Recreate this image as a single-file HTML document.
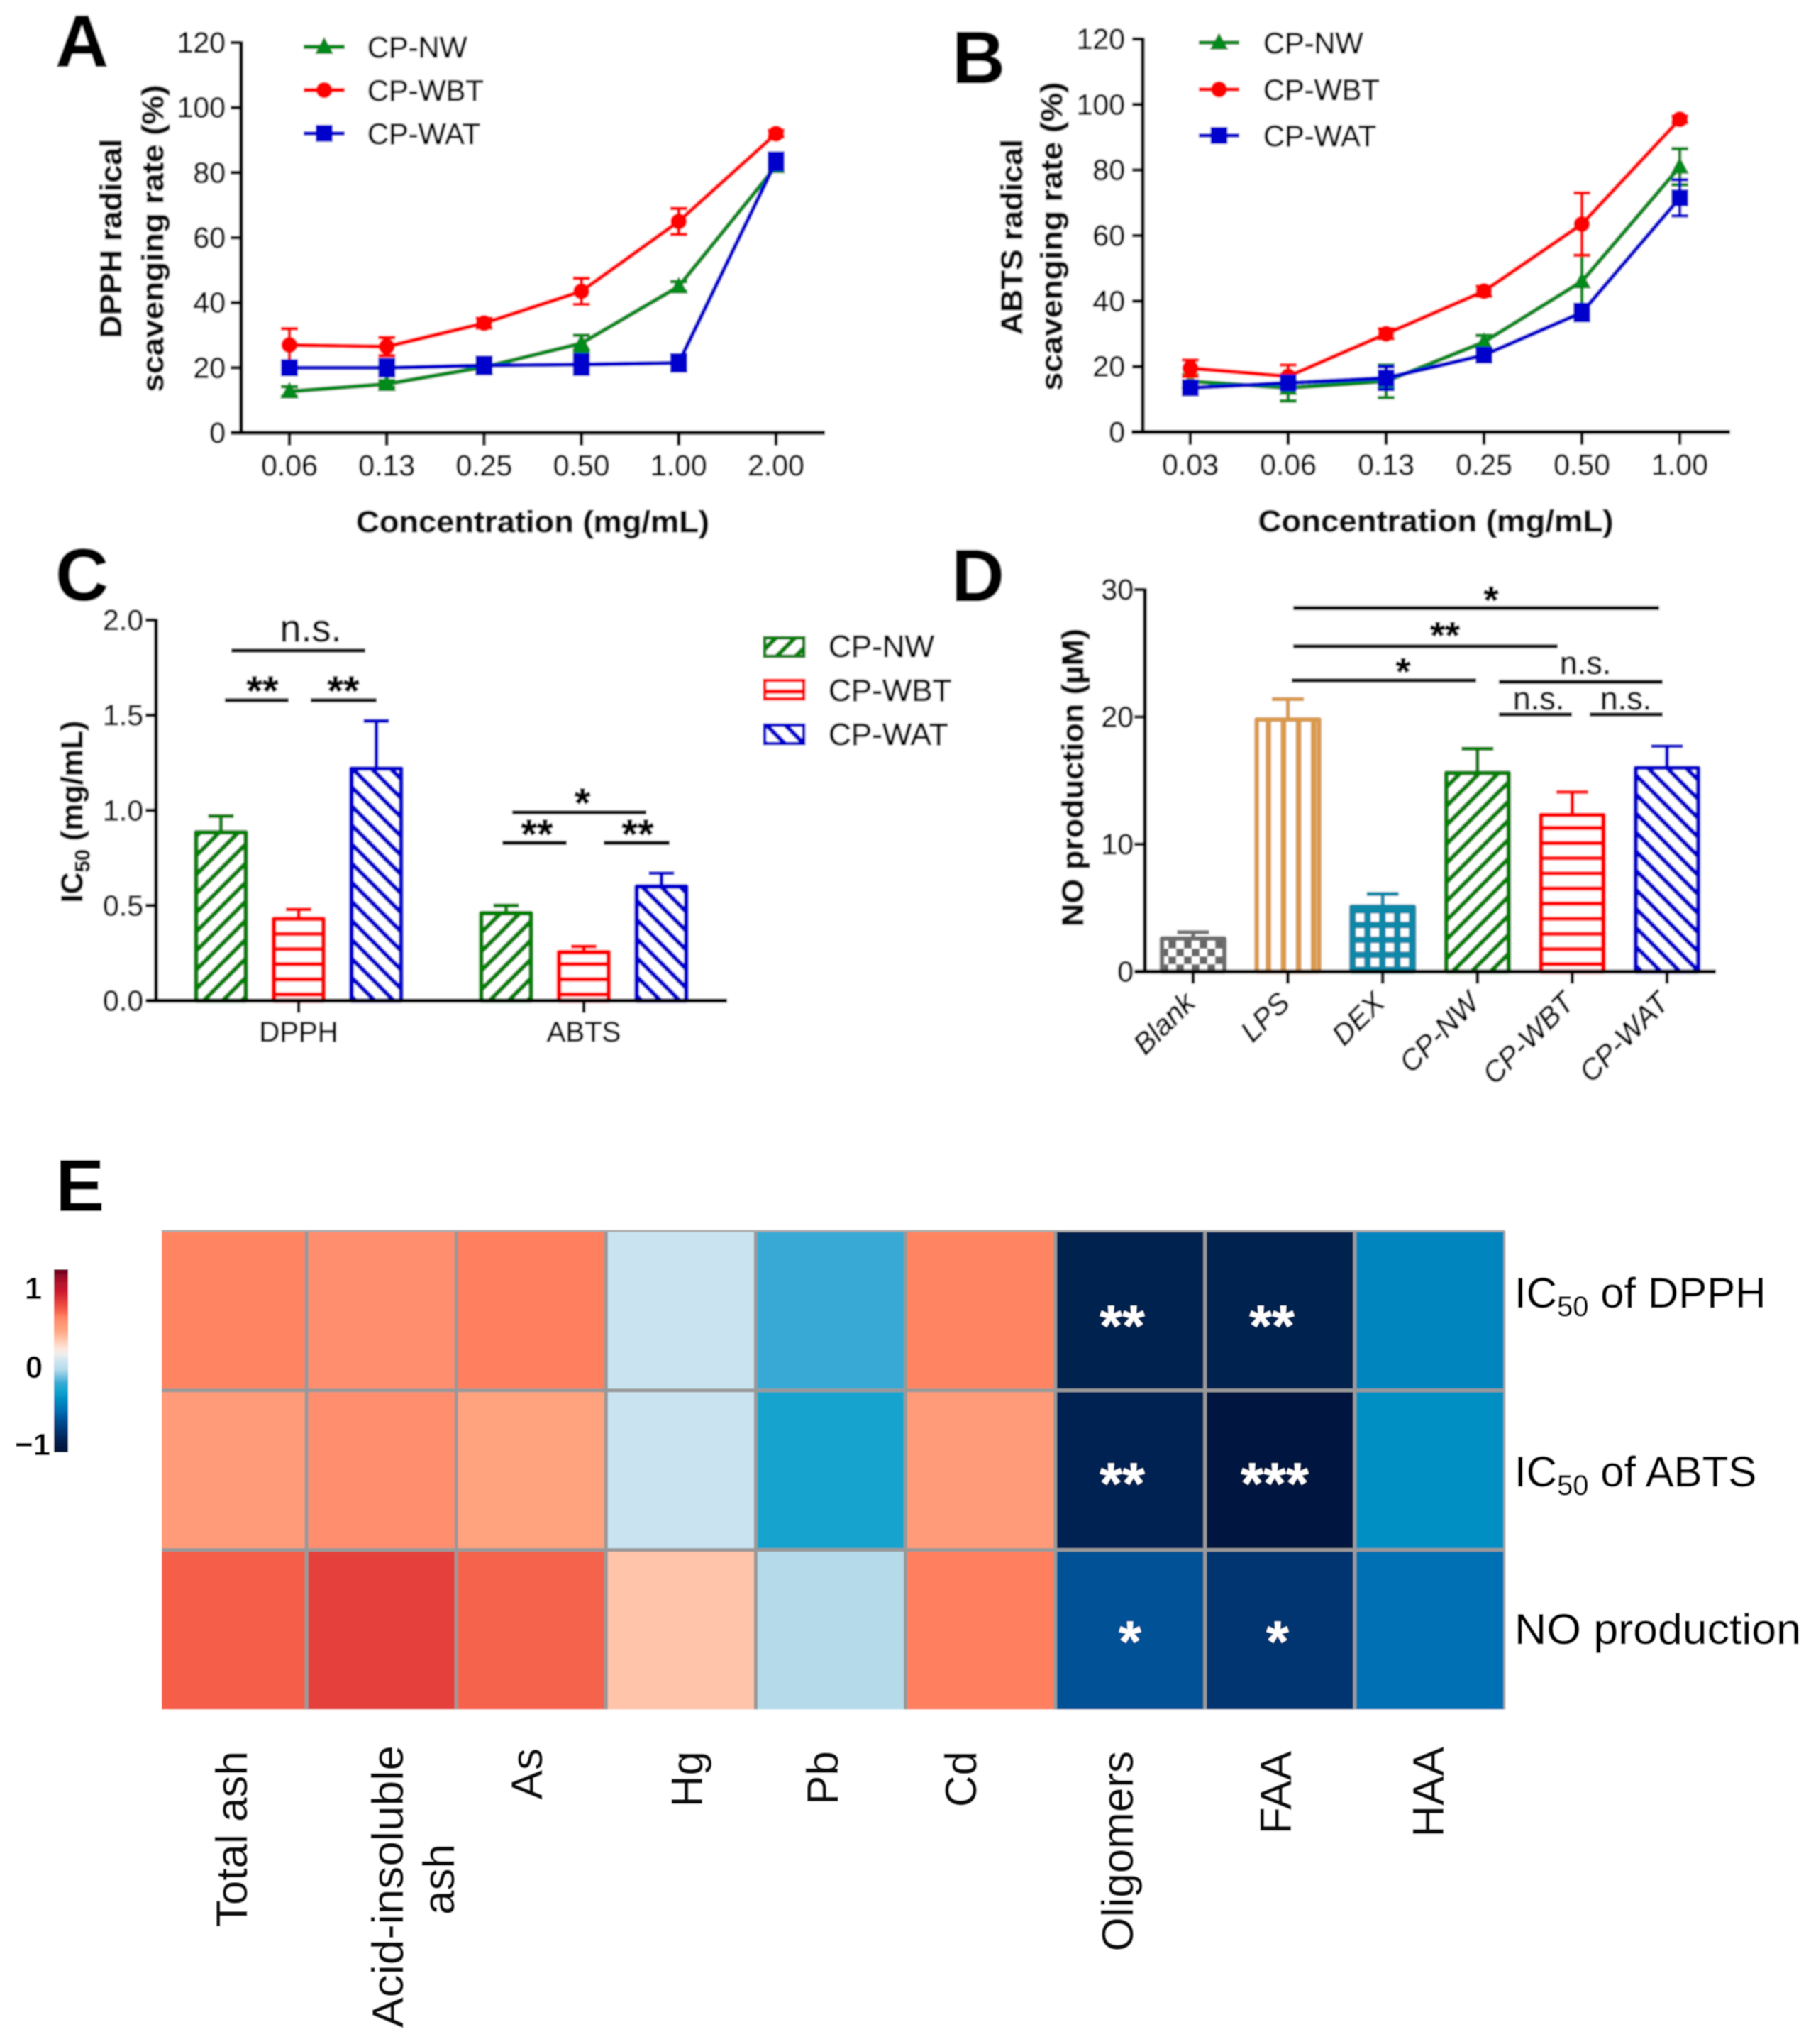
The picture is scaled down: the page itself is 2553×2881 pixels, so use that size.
<!DOCTYPE html>
<html lang="en">
<head>
<meta charset="utf-8">
<title>Antioxidant and anti-inflammatory activity figure</title>
<style>
html,body{margin:0;padding:0;background:#fff;}
svg{display:block;font-family:"Liberation Sans",Arial,sans-serif;}
text{fill:#000;}
#softTop text{stroke:#000;stroke-width:.9;}
.tick{font-size:41px;}
.leg{font-size:41.5px;}
.letter{font-size:104px;font-weight:bold;fill:#000;}
.ytitle,.xtitle{font-size:43px;font-weight:bold;fill:#111;}
.sig{stroke:#111;stroke-width:6;fill:none;}
.star{font-size:54px;font-weight:bold;text-anchor:middle;}
.ns{font-size:45px;text-anchor:middle;}
.cl{font-size:62px;text-anchor:end;fill:#111;stroke:#111;stroke-width:.5;}
.rl{font-size:60px;fill:#000;stroke:#000;stroke-width:.5;}
.hs{font-size:82px;font-weight:bold;text-anchor:middle;fill:#fff;}
</style>
</head>
<body>
<svg id="fig" xmlns="http://www.w3.org/2000/svg" width="2553" height="2881" viewBox="0 0 2553 2881">
<defs>
  <filter id="soft" x="0" y="0" width="1" height="1" filterUnits="objectBoundingBox"><feGaussianBlur stdDeviation="1"/></filter>
  <filter id="softer" x="0" y="0" width="1" height="1" filterUnits="objectBoundingBox"><feGaussianBlur stdDeviation="0.8"/></filter>
  <pattern id="hGreen" patternUnits="userSpaceOnUse" width="19" height="19" patternTransform="rotate(45)"><rect width="6.5" height="19" fill="#008000"/></pattern>
  <pattern id="hBlue" patternUnits="userSpaceOnUse" width="19" height="19" patternTransform="rotate(-45)"><rect width="6.5" height="19" fill="#0000CC"/></pattern>
  <pattern id="hRed" patternUnits="userSpaceOnUse" width="21.35" height="21.35" patternTransform="translate(0,11)"><rect width="21.35" height="6" fill="#FF0000"/></pattern>
  <pattern id="hOrange" patternUnits="userSpaceOnUse" width="21.3" height="20" patternTransform="translate(1784,0)"><rect width="8" height="20" fill="#D99A4E"/></pattern>
  <pattern id="hTeal" patternUnits="userSpaceOnUse" width="21" height="21" patternTransform="translate(1907,1283)"><rect width="21" height="21" fill="#0A88A8"/><rect x="4.5" y="4.5" width="11.5" height="11.5" fill="#fff"/></pattern>
  <pattern id="hGrey" patternUnits="userSpaceOnUse" width="22" height="22" patternTransform="translate(1636,1326)"><rect width="22" height="22" fill="#fff"/><rect x="11" width="11" height="11" fill="#666"/><rect y="11" width="11" height="11" fill="#666"/></pattern>
  <linearGradient id="cbarGrad" x1="0" y1="0" x2="0" y2="1"></linearGradient>
</defs>

<g id="softTop" filter="url(#soft)">
  <rect x="0" y="0" width="2553" height="1600" fill="#fff" stroke="none"/>
  <text class="letter" x="78" y="94">A</text>
  <text class="letter" x="1342" y="117">B</text>
  <text class="letter" x="78" y="846">C</text>
  <text class="letter" x="1341" y="847">D</text>

  <g id="panelA">
    <text class="ytitle" transform="translate(171,336) rotate(-90)" text-anchor="middle" textLength="281" lengthAdjust="spacingAndGlyphs">DPPH radical</text>
    <text class="ytitle" transform="translate(230,336) rotate(-90)" text-anchor="middle" textLength="433" lengthAdjust="spacingAndGlyphs">scavenging rate (%)</text>
    <text class="xtitle" x="751" y="750" text-anchor="middle" textLength="498" lengthAdjust="spacingAndGlyphs">Concentration (mg/mL)</text>
  </g>
  <g id="panelB">
    <text class="ytitle" transform="translate(1441,334) rotate(-90)" text-anchor="middle" textLength="276" lengthAdjust="spacingAndGlyphs">ABTS radical</text>
    <text class="ytitle" transform="translate(1497,333) rotate(-90)" text-anchor="middle" textLength="435" lengthAdjust="spacingAndGlyphs">scavenging rate (%)</text>
    <text class="xtitle" x="2024" y="749" text-anchor="middle" textLength="501" lengthAdjust="spacingAndGlyphs">Concentration (mg/mL)</text>
  </g>
  <g id="panelC">
    <text class="ytitle" transform="translate(116,1144) rotate(-90)" text-anchor="middle">IC<tspan font-size="29" dy="10">50</tspan><tspan dy="-10"> (mg/mL)</tspan></text>
    <g>
      <path class="sig" d="M326 917H515"/>
      <text class="ns" style="font-size:54px" x="438" y="904">n.s.</text>
      <path class="sig" d="M317 987H407"/>
      <path class="sig" d="M438 987H531"/>
      <text class="star" style="font-size:58px" x="370" y="994">**</text>
      <text class="star" style="font-size:58px" x="484" y="994">**</text>
      <path class="sig" d="M722 1145H911"/>
      <text class="star" style="font-size:58px" x="821" y="1152">*</text>
      <path class="sig" d="M708 1188H799"/>
      <path class="sig" d="M851 1188H944"/>
      <text class="star" style="font-size:58px" x="757" y="1196">**</text>
      <text class="star" style="font-size:58px" x="899" y="1196">**</text>
    </g>
    <g>
      <rect x="1078" y="899" width="55" height="26" fill="url(#hGreen)" stroke="#008000" stroke-width="5"/>
      <text class="leg" style="font-size:44px" x="1168" y="926">CP-NW</text>
      <rect x="1078" y="959" width="55" height="26" fill="url(#hRed)" stroke="#FF0000" stroke-width="5"/>
      <text class="leg" style="font-size:44px" x="1168" y="988">CP-WBT</text>
      <rect x="1078" y="1022" width="55" height="26" fill="url(#hBlue)" stroke="#0000CC" stroke-width="5"/>
      <text class="leg" style="font-size:44px" x="1168" y="1050">CP-WAT</text>
    </g>
  </g>
  <g id="panelD">
    <text class="ytitle" transform="translate(1527,1096) rotate(-90)" text-anchor="middle" textLength="420" lengthAdjust="spacingAndGlyphs">NO production (µM)</text>
    <g>
      <path class="sig" d="M1823 857H2339"/>
      <text class="star" x="2102" y="864">*</text>
      <path class="sig" d="M1823 911H2196"/>
      <text class="star" x="2037" y="914">**</text>
      <path class="sig" d="M1821 959H2081"/>
      <text class="star" x="1978" y="965">*</text>
      <path class="sig" d="M2113 961H2344"/>
      <text class="ns" x="2235" y="950">n.s.</text>
      <path class="sig" d="M2113 1007H2216"/>
      <text class="ns" x="2169" y="1000">n.s.</text>
      <path class="sig" d="M2241 1007H2344"/>
      <text class="ns" x="2292" y="1000">n.s.</text>
    </g>
  </g>
</g>

<g id="panelE" filter="url(#softer)">
  <rect x="0" y="1600" width="2553" height="1281" fill="#fff"/>
  <text class="letter" x="78" y="1707">E</text>
  <g id="heatCells"></g>
  <g>
    <text class="hs" x="1582" y="1897">**</text>
    <text class="hs" x="1793" y="1897">**</text>
    <text class="hs" x="1582" y="2119">**</text>
    <text class="hs" x="1797" y="2119">***</text>
    <text class="hs" x="1593" y="2342">*</text>
    <text class="hs" x="1801" y="2342">*</text>
  </g>
  <g>
    <text class="rl" x="2135" y="1843">IC<tspan font-size="40" dy="12">50</tspan><tspan dy="-12"> of DPPH</tspan></text>
    <text class="rl" x="2135" y="2095">IC<tspan font-size="40" dy="12">50</tspan><tspan dy="-12"> of ABTS</tspan></text>
    <text class="rl" x="2135" y="2317" textLength="404" lengthAdjust="spacingAndGlyphs">NO production</text>
  </g>
  <g>
    <text class="cl" transform="translate(348,2468) rotate(-90)">Total ash</text>
    <text class="cl" style="text-anchor:middle" transform="translate(568,2659) rotate(-90)" textLength="398" lengthAdjust="spacingAndGlyphs">Acid-insoluble</text>
    <text class="cl" style="text-anchor:middle" transform="translate(640,2649) rotate(-90)">ash</text>
    <text class="cl" transform="translate(764,2464) rotate(-90)">As</text>
    <text class="cl" transform="translate(990,2468) rotate(-90)">Hg</text>
    <text class="cl" transform="translate(1181,2468) rotate(-90)">Pb</text>
    <text class="cl" transform="translate(1376,2468) rotate(-90)">Cd</text>
    <text class="cl" transform="translate(1597,2468) rotate(-90)">Oligomers</text>
    <text class="cl" transform="translate(1820,2468) rotate(-90)">FAA</text>
    <text class="cl" transform="translate(2035,2462) rotate(-90)">HAA</text>
  </g>
  <g>
    <rect x="76" y="1789" width="20" height="258" fill="url(#cbarGrad)"/>
    <text x="47" y="1831" font-size="44" font-weight="bold" text-anchor="middle">1</text>
    <text x="48" y="1942" font-size="44" font-weight="bold" text-anchor="middle">0</text>
    <text x="46" y="2051" font-size="44" font-weight="bold" text-anchor="middle">−1</text>
  </g>
</g>
</svg>

<script>
// ---------- Panel A data ----------
const concA = ['0.06','0.13','0.25','0.50','1.00','2.00'];
const nwA  = [12.7,15,20.2,27.5,45,82];
const wbtA = [27,26.5,33.7,43.5,65,92];
const watA = [20,20,20.7,21,21.5,83.5];
const nwErrA  = [1.5,1,1,2.5,1.5,1];
const wbtErrA = [5,2.8,1.5,4,4,1];
const watErrA = [1.5,2.5,2.5,3,2.5,2.5];
// ---------- Panel B data ----------
const concB = ['0.03','0.06','0.13','0.25','0.50','1.00'];
const nwB  = [15.5,13.5,15.5,27.5,46,81];
const wbtB = [19.5,17,30,43,63.5,95.5];
const watB = [13.5,15,16.5,23.5,36.5,71.5];
const nwErrB  = [2,4,5,2,8,5.5];
const wbtErrB = [2.5,3.5,1.5,1.5,9.5,1];
const watErrB = [1.5,1.5,3.5,1.5,2.5,5.5];
const lineTicks = [0,20,40,60,80,100,120];
// ---------- Panel C data ----------
const groupsC = ['DPPH','ABTS'];
const icNW  = [0.885,0.46];
const icWBT = [0.43,0.255];
const icWAT = [1.22,0.6];
const icNWTop  = [0.97,0.5];
const icWBTTop = [0.48,0.285];
const icWATTop = [1.47,0.67];
const ticksC = ['0.0','0.5','1.0','1.5','2.0'];
// ---------- Panel D data ----------
const groupsD = ['Blank','LPS','DEX','CP-NW','CP-WBT','CP-WAT'];
const noValues = [2.6,19.8,5.1,15.6,12.3,16];
const noTops = [3.1,21.4,6.1,17.5,14.1,17.7];
const ticksD = [0,10,20,30];
// ---------- Panel E data ----------
const heatCols = ['Total ash','Acid-insoluble ash','As','Hg','Pb','Cd','Oligomers','FAA','HAA'];
const heatRows = ['IC50 of DPPH','IC50 of ABTS','NO production'];
const heatDPPH = [0.62,0.58,0.64,0.05,-0.22,0.62,-0.95,-0.95,-0.46];
const heatABTS = [0.52,0.58,0.46,0.05,-0.31,0.52,-0.94,-1.04,-0.42];
const heatNO   = [0.72,0.82,0.70,0.35,-0.04,0.64,-0.68,-0.83,-0.57];
const scaleValues = [1.24,1.11,0.96,0.82,0.72,0.70,0.64,0.62,0.58,0.52,0.46,0.35,0.23,0.16,0.05,-0.04,-0.22,-0.31,-0.42,-0.46,-0.57,-0.68,-0.83,-0.95,-1.04,-1.10];
const scaleColors = ['#67001F','#A50F2B','#CB1A2E','#E5403B','#F55F4A','#F5644E','#FF7F5E','#FF8562','#FF8E6E','#FF9B78','#FFA37F','#FFC4A9','#FDE5DA','#EFEDEB','#C9E4F0','#B5DBEB','#37A9D5','#12A4CE','#028FC2','#0385BE','#016FB4','#005196','#003471','#00214F','#00193F','#001035'];

const NS = 'http://www.w3.org/2000/svg';
const GREEN = '#008A1E', RED = '#FF0000', BLUE = '#0000CC';

function make(tag, attrs, parent, txt) {
  const e = document.createElementNS(NS, tag);
  for (const k in attrs) e.setAttribute(k, attrs[k]);
  if (txt !== undefined) e.textContent = txt;
  parent.appendChild(e);
  return e;
}

function drawAxes(parent, o) {
  const yAxis = make('line', {x1:o.x0, x2:o.x0, y1:o.yTop-2, y2:o.yBase+2.5, stroke:'#000', 'stroke-width':5.5}, parent);
  
  
  const xAxis = make('line', {x1:o.xStart, x2:o.xEnd, y1:o.yBase, y2:o.yBase, stroke:'#000', 'stroke-width':6}, parent);
  
  
  o.yTicks.forEach(function (t) {
    const y = o.yFn(parseFloat(t));
    const tk = make('line', {x1:o.x0-15, x2:o.x0, y1:y, y2:y, stroke:'#000', 'stroke-width':5}, parent);
    
    
    const lb = make('text', {x:o.yLabelX, y:y+14, 'text-anchor':'end', 'class':'tick'}, parent, String(t));
    
    
  });
}

function drawLineSeries(parent, name, xFn, yFn, vals, errs, color, shape) {
  const g = make('g', {}, parent);
  
  
  const pts = vals.map(function (v, i) { return xFn(i) + ',' + yFn(v); }).join(' ');
  const pl = make('polyline', {points:pts, fill:'none', stroke:color, 'stroke-width':6, 'stroke-linejoin':'round'}, g);
  
  
  vals.forEach(function (v, i) {
    const x = xFn(i), y1 = yFn(v + errs[i]), y2 = yFn(v - errs[i]);
    const eb = make('path', {d:'M'+x+' '+y1+'V'+y2+'M'+(x-12)+' '+y1+'H'+(x+12)+'M'+(x-12)+' '+y2+'H'+(x+12), stroke:color, 'stroke-width':5, fill:'none'}, g);
    
    
    const mk = drawMarker(g, x, yFn(v), color, shape);
    
    
  });
}

function drawMarker(parent, x, y, color, shape) {
  if (shape === 'tri') return make('path', {d:'M'+x+' '+(y-14)+'L'+(x+13)+' '+(y+10)+'H'+(x-13)+'Z', fill:color}, parent);
  if (shape === 'circle') return make('circle', {cx:x, cy:y, r:11.5, fill:color}, parent);
  return make('rect', {x:x-12, y:y-12, width:24, height:24, fill:color}, parent);
}

function drawLineLegend(parent, lx1, lx2, tx, ys) {
  const names = ['CP-NW','CP-WBT','CP-WAT'];
  const cols = [GREEN, RED, BLUE];
  const shapes = ['tri','circle','square'];
  names.forEach(function (n, i) {
    const ln = make('line', {x1:lx1, x2:lx2, y1:ys[i], y2:ys[i], stroke:cols[i], 'stroke-width':6}, parent);
    
    
    const mk = drawMarker(parent, (lx1+lx2)/2, ys[i], cols[i], shapes[i]);
    
    
    const tl = make('text', {x:tx, y:ys[i]+15, 'class':'leg'}, parent, n);
    
    
  });
}

function drawLinePanel(parent, o) {
  drawAxes(parent, {x0:o.x0, yTop:o.yFn(120), yBase:o.yFn(0), xStart:o.xStart, xEnd:o.xEnd, yTicks:lineTicks, yFn:o.yFn, yLabelX:o.yLabelX});
  o.cats.forEach(function (c, i) {
    const x = o.xFn(i), yb = o.yFn(0);
    const tk = make('line', {x1:x, x2:x, y1:yb, y2:yb+18, stroke:'#000', 'stroke-width':5}, parent);
    
    
    const lb = make('text', {x:x, y:yb+60, 'text-anchor':'middle', 'class':'tick'}, parent, c);
    
    
  });
  drawLineSeries(parent, 'cp-nw', o.xFn, o.yFn, o.nw, o.nwE, GREEN, 'tri');
  drawLineSeries(parent, 'cp-wbt', o.xFn, o.yFn, o.wbt, o.wbtE, RED, 'circle');
  drawLineSeries(parent, 'cp-wat', o.xFn, o.yFn, o.wat, o.watE, BLUE, 'square');
  drawLineLegend(parent, o.legX1, o.legX2, o.legTx, o.legYs);
}

function drawBar(parent, name, cx, w, yFn, value, top, fill, color, capW) {
  const g = make('g', {}, parent);
  
  
  const eb = make('path', {d:'M'+cx+' '+yFn(value)+'V'+yFn(top)+'M'+(cx-capW/2)+' '+yFn(top)+'H'+(cx+capW/2), stroke:color, 'stroke-width':5.5, fill:'none'}, g);
  
  
  const r = make('rect', {x:cx-w/2+3, y:yFn(value), width:w-6, height:yFn(0)-yFn(value), fill:'#fff'}, g);
  
  
  const b = make('rect', {x:cx-w/2+3, y:yFn(value), width:w-6, height:yFn(0)-yFn(value), fill:'url(#'+fill+')', stroke:color, 'stroke-width':6.5, 'stroke-linejoin':'round'}, g);
  
  
}

// ---- Panel A
const xA = function (i) { return 408 + i * 137.2; };
const yA = function (v) { return 610 - v * 550 / 120; };
drawLinePanel(document.getElementById('panelA'), {
  x0:340, xStart:326, xEnd:1163, xFn:xA, yFn:yA, yLabelX:318, cats:concA,
  nw:nwA, wbt:wbtA, wat:watA, nwE:nwErrA, wbtE:wbtErrA, watE:watErrA,
  legX1:428, legX2:486, legTx:518, legYs:[66,127,188]
});
// ---- Panel B
const xB = function (i) { return 1678 + i * 138; };
const yB = function (v) { return 609 - v * 554 / 120; };
drawLinePanel(document.getElementById('panelB'), {
  x0:1611, xStart:1595, xEnd:2439, xFn:xB, yFn:yB, yLabelX:1586, cats:concB,
  nw:nwB, wbt:wbtB, wat:watB, nwE:nwErrB, wbtE:wbtErrB, watE:watErrB,
  legX1:1690, legX2:1747, legTx:1781, legYs:[60,126,191]
});
// ---- Panel C
const xC = function (g, s) { return 421 + g * 402 + (s - 1) * 109.5; };
const yC = function (v) { return 1410.5 - v * 536.5 / 2; };
(function () {
  const p = document.getElementById('panelC');
  const fills = ['hGreen','hRed','hBlue'];
  const cols = ['#008000','#FF0000','#0000CC'];
  const serNames = ['cp-nw','cp-wbt','cp-wat'];
  const vals = [icNW, icWBT, icWAT];
  const tops = [icNWTop, icWBTTop, icWATTop];
  groupsC.forEach(function (gn, g) {
    vals.forEach(function (sv, s) {
      drawBar(p, gn.toLowerCase() + '-' + serNames[s], xC(g, s), 76, yC, sv[g], tops[s][g], fills[s], cols[s], 36);
    });
  });
  drawAxes(p, {x0:220, yTop:yC(2), yBase:yC(0), xStart:207, xEnd:1025, yTicks:ticksC, yFn:yC, yLabelX:202});
  groupsC.forEach(function (gn, g) {
    const x = xC(g, 1), yb = yC(0);
    const tk = make('line', {x1:x, x2:x, y1:yb, y2:yb+17, stroke:'#000', 'stroke-width':5}, p);
    
    
    const lb = make('text', {x:x, y:1468, 'text-anchor':'middle', 'class':'tick', style:'font-size:40px'}, p, gn);
    
    
  });
})();
// ---- Panel D
const xD = function (i) { return 1682 + i * 133.6; };
const yD = function (v) { return 1369.5 - v * 538.5 / 30; };
(function () {
  const p = document.getElementById('panelD');
  const fills = ['hGrey','hOrange','hTeal','hGreen','hRed','hBlue'];
  const cols = ['#6E6E6E','#D99A4E','#0A88A8','#008000','#FF0000','#0000CC'];
  groupsD.forEach(function (gn, i) {
    drawBar(p, gn.toLowerCase(), xD(i), 94, yD, noValues[i], noTops[i], fills[i], cols[i], 45);
  });
  drawAxes(p, {x0:1614, yTop:yD(30), yBase:yD(0), xStart:1600, xEnd:2419, yTicks:ticksD, yFn:yD, yLabelX:1598});
  groupsD.forEach(function (gn, i) {
    const x = xD(i), yb = yD(0);
    const tk = make('line', {x1:x, x2:x, y1:yb, y2:yb+17, stroke:'#000', 'stroke-width':5}, p);
    
    
    const lb = make('text', {transform:'translate('+(x+5)+',1416) rotate(-45)', 'text-anchor':'end', 'class':'tick', style:'font-size:41px;font-style:italic'}, p, gn);
    
    
  });
})();
// ---- Panel E
function heatColor(v) {
  const hex = function (c) { return [1,3,5].map(function (k) { return parseInt(c.substr(k,2),16); }); };
  for (let i = 0; i < scaleValues.length - 1; i++) {
    if (v <= scaleValues[i] && v >= scaleValues[i+1]) {
      const t = (scaleValues[i] - v) / (scaleValues[i] - scaleValues[i+1]);
      const a = hex(scaleColors[i]), b = hex(scaleColors[i+1]);
      return 'rgb(' + a.map(function (c, k) { return Math.round(c + (b[k]-c)*t); }).join(',') + ')';
    }
  }
  return v > 0 ? scaleColors[0] : scaleColors[scaleColors.length-1];
}
const colEdge = function (i) { return i === 0 ? 228 : 221 + 211.1 * i; };
const rowEdge = function (j) { return 1735 + 224.8 * j; };
(function () {
  const p = document.getElementById('heatCells');
  const grid = [heatDPPH, heatABTS, heatNO];
  grid.forEach(function (row, j) {
    row.forEach(function (v, i) {
      const c = make('rect', {x:colEdge(i), y:rowEdge(j), width:colEdge(i+1)-colEdge(i), height:rowEdge(j+1)-rowEdge(j), fill:heatColor(v)}, p);
      
      
    });
  });
  for (let i = 1; i < heatCols.length; i++) {
    const l = make('line', {x1:colEdge(i), x2:colEdge(i), y1:rowEdge(0), y2:rowEdge(3), stroke:'#999', 'stroke-width':5}, p);
    
    
  }
  for (let j = 1; j < heatRows.length; j++) {
    const l = make('line', {x1:colEdge(0), x2:colEdge(9), y1:rowEdge(j), y2:rowEdge(j), stroke:'#999', 'stroke-width':5}, p);
    
    
  }
  const top = make('line', {x1:colEdge(0), x2:colEdge(9), y1:rowEdge(0), y2:rowEdge(0), stroke:'#aaa', 'stroke-width':3}, p);
  
  
  const right = make('line', {x1:colEdge(9), x2:colEdge(9), y1:rowEdge(0), y2:rowEdge(3), stroke:'#aaa', 'stroke-width':3}, p);
  
  
  const grad = document.getElementById('cbarGrad');
  scaleValues.forEach(function (v, i) {
    const s = make('stop', {offset:(scaleValues[0]-v)/(scaleValues[0]-scaleValues[scaleValues.length-1]), 'stop-color':scaleColors[i]}, grad);
    
    
  });
})();
</script>
</body>
</html>
